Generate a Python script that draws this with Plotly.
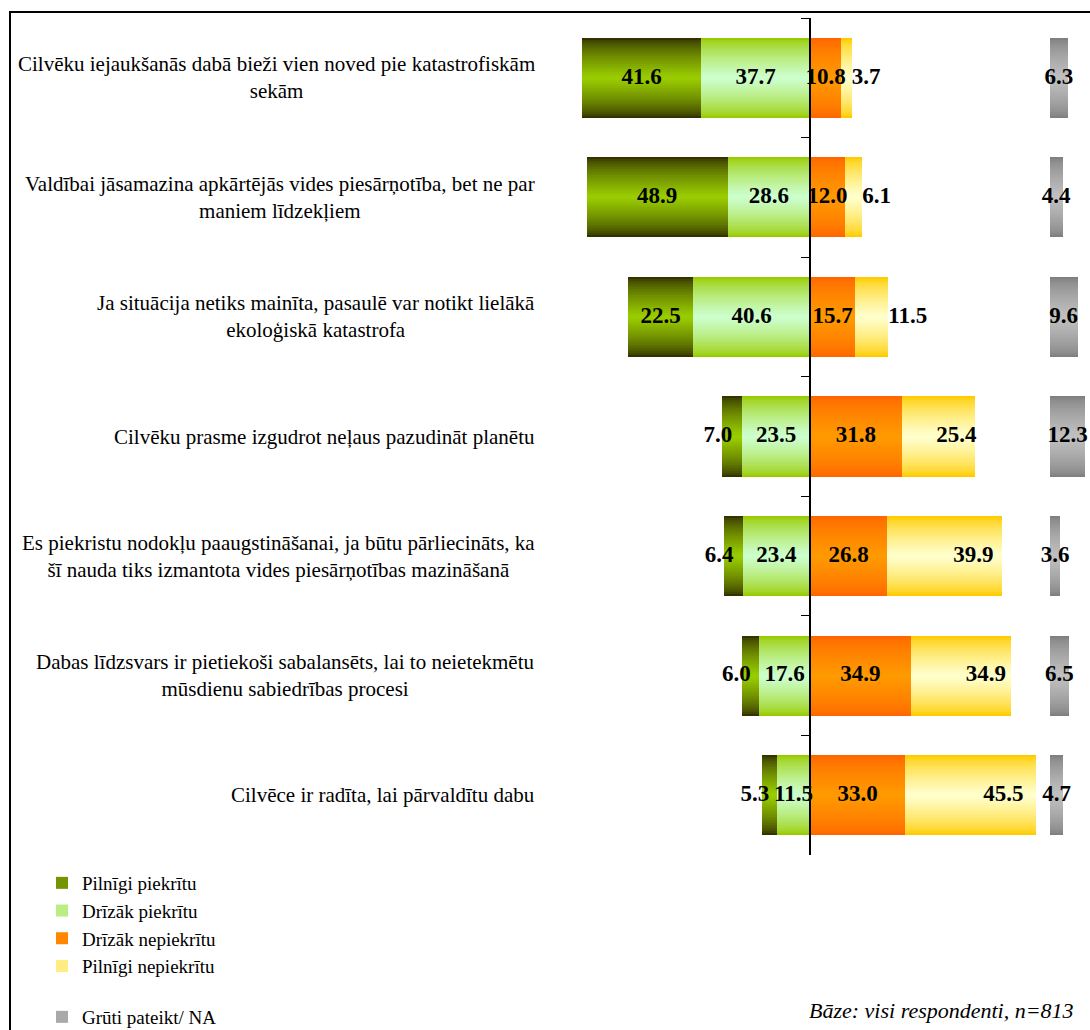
import plotly.graph_objects as go

# Statements (categories), top to bottom
statements = [
    "Cilvēku iejaukšanās dabā bieži vien noved pie katastrofiskām<br>sekām",
    "Valdībai jāsamazina apkārtējās vides piesārņotība, bet ne par<br>maniem līdzekļiem",
    "Ja situācija netiks mainīta, pasaulē var notikt lielākā<br>ekoloģiskā katastrofa",
    "Cilvēku prasme izgudrot neļaus pazudināt planētu",
    "Es piekristu nodokļu paaugstināšanai, ja būtu pārliecināts, ka<br>šī nauda tiks izmantota vides piesārņotības mazināšanā",
    "Dabas līdzsvars ir pietiekoši sabalansēts, lai to neietekmētu<br>mūsdienu sabiedrības procesi",
    "Cilvēce ir radīta, lai pārvaldītu dabu",
]

# Values, %
pilnigi_piekritu = [41.6, 48.9, 22.5, 7.0, 6.4, 6.0, 5.3]
drizak_piekritu = [37.7, 28.6, 40.6, 23.5, 23.4, 17.6, 11.5]
drizak_nepiekritu = [10.8, 12.0, 15.7, 31.8, 26.8, 34.9, 33.0]
pilnigi_nepiekritu = [3.7, 6.1, 11.5, 25.4, 39.9, 34.9, 45.5]
gruti_pateikt = [6.3, 4.4, 9.6, 12.3, 3.6, 6.5, 4.7]

series_names = ["Pilnīgi piekrītu", "Drīzāk piekrītu", "Drīzāk nepiekrītu",
                "Pilnīgi nepiekrītu", "Grūti pateikt/ NA"]

# gradient colours: (edge, centre)
grad = [
    ((51, 51, 0), (153, 204, 0)),
    ((153, 204, 0), (204, 255, 204)),
    ((255, 102, 0), (255, 153, 0)),
    ((255, 204, 0), (255, 255, 204)),
    ((128, 128, 128), (192, 192, 192)),
]

W, H = 1090, 1030
PLOT_TOP, PLOT_BOTTOM = 18, 855
SCALE = 2.88          # px per percent
ZERO_PX = 810
NA_OFFSET = 83.3      # where the "NA" bars start
BAR_W = 0.67
N_LAYERS = 20
SERIF = "Liberation Serif"


def py(y):
    return (PLOT_BOTTOM - y) / (PLOT_BOTTOM - PLOT_TOP)


def mix(c0, c1, t):
    return "rgb({},{},{})".format(*[round(a + (b - a) * t) for a, b in zip(c0, c1)])


# bases and lengths of each segment
bases = [
    [-(a + b) for a, b in zip(pilnigi_piekritu, drizak_piekritu)],
    [-b for b in drizak_piekritu],
    [0] * len(statements),
    list(drizak_nepiekritu),
    [NA_OFFSET] * len(statements),
]
lengths = [pilnigi_piekritu, drizak_piekritu, drizak_nepiekritu,
           pilnigi_nepiekritu, gruti_pateikt]

fig = go.Figure()

# Bars: stacked layers of narrowing bars give a vertical gradient
for s, name in enumerate(series_names):
    edge, centre = grad[s]
    for i in range(N_LAYERS):
        t = (i / (N_LAYERS - 1)) ** 0.7
        fig.add_trace(go.Bar(
            y=statements, x=lengths[s], base=bases[s], orientation="h",
            width=BAR_W * (1 - i / N_LAYERS),
            marker=dict(color=mix(edge, centre, t), line=dict(width=0)),
            name=name, legendgroup=name,
            showlegend=(i == N_LAYERS // 2),
            legend="legend2" if s == 4 else "legend",
            hoverinfo="skip",
        ))

# Value labels
label_font = dict(family=SERIF, size=23, color="black")
for s in range(5):
    xs, pos = [], []
    for b, v in zip(bases[s], lengths[s]):
        if s == 3 and v < 15:
            xs.append(b + v)
            pos.append("middle right")
        elif s == 3:
            xs.append(b + v * 0.75)
            pos.append("middle center")
        elif s == 0 and v < 10:
            xs.append(b + v / 2)
            pos.append("middle left")
        else:
            xs.append(b + v / 2)
            pos.append("middle center")
    fig.add_trace(go.Scatter(
        x=xs, y=statements, mode="text",
        text=[f"<b>{v:.1f}</b>" for v in lengths[s]],
        textposition=pos, textfont=label_font,
        showlegend=False, hoverinfo="skip", cliponaxis=False,
    ))

# Statement labels on the left
for st in statements:
    fig.add_annotation(
        x=537 / W, xref="paper", y=st, yref="y", text=st,
        xanchor="right", align="center", showarrow=False,
        font=dict(family=SERIF, size=21, color="black"),
    )

fig.add_annotation(
    x=1076 / W, xref="paper", y=py(1010), yref="paper",
    text="<i>Bāze: visi respondenti, n=813</i>",
    xanchor="right", yanchor="middle", showarrow=False,
    font=dict(family=SERIF, size=22, color="black"),
)

# outer frame
fig.add_shape(type="rect", xref="paper", yref="paper",
              x0=10 / W, x1=1.05, y0=py(1060), y1=py(12),
              line=dict(color="black", width=2), layer="above")

x_left = -ZERO_PX / SCALE
x_right = (W - ZERO_PX) / SCALE

fig.update_layout(
    width=W, height=H,
    margin=dict(l=0, r=0, t=PLOT_TOP, b=H - PLOT_BOTTOM, autoexpand=False),
    barmode="overlay",
    plot_bgcolor="white", paper_bgcolor="white",
    xaxis=dict(range=[x_left, x_right], visible=False),
    yaxis=dict(
        type="category", categoryorder="array", categoryarray=statements,
        range=[len(statements) - 0.5, -0.5],
        anchor="free", position=ZERO_PX / W,
        showline=True, linecolor="black", linewidth=1.5,
        ticks="outside", tickson="boundaries", ticklen=8, tickcolor="black",
        showticklabels=False, showgrid=False, zeroline=False,
    ),
    legend=dict(
        x=42 / W, y=py(864), xanchor="left", yanchor="top",
        font=dict(family=SERIF, size=19, color="black"),
        traceorder="normal", bgcolor="rgba(0,0,0,0)",
    ),
    legend2=dict(
        x=42 / W, y=py(998), xanchor="left", yanchor="top",
        font=dict(family=SERIF, size=19, color="black"),
        bgcolor="rgba(0,0,0,0)",
    ),
)

# no page margin; crisp bar edges so the stacked gradient layers keep square ends
post = ("document.body.style.margin='0';"
        "document.head.insertAdjacentHTML('beforeend',"
        "'<style>.trace.bars path{shape-rendering:crispEdges}</style>');")
fig.write_html("out.html", config={"displayModeBar": False}, post_script=post)
